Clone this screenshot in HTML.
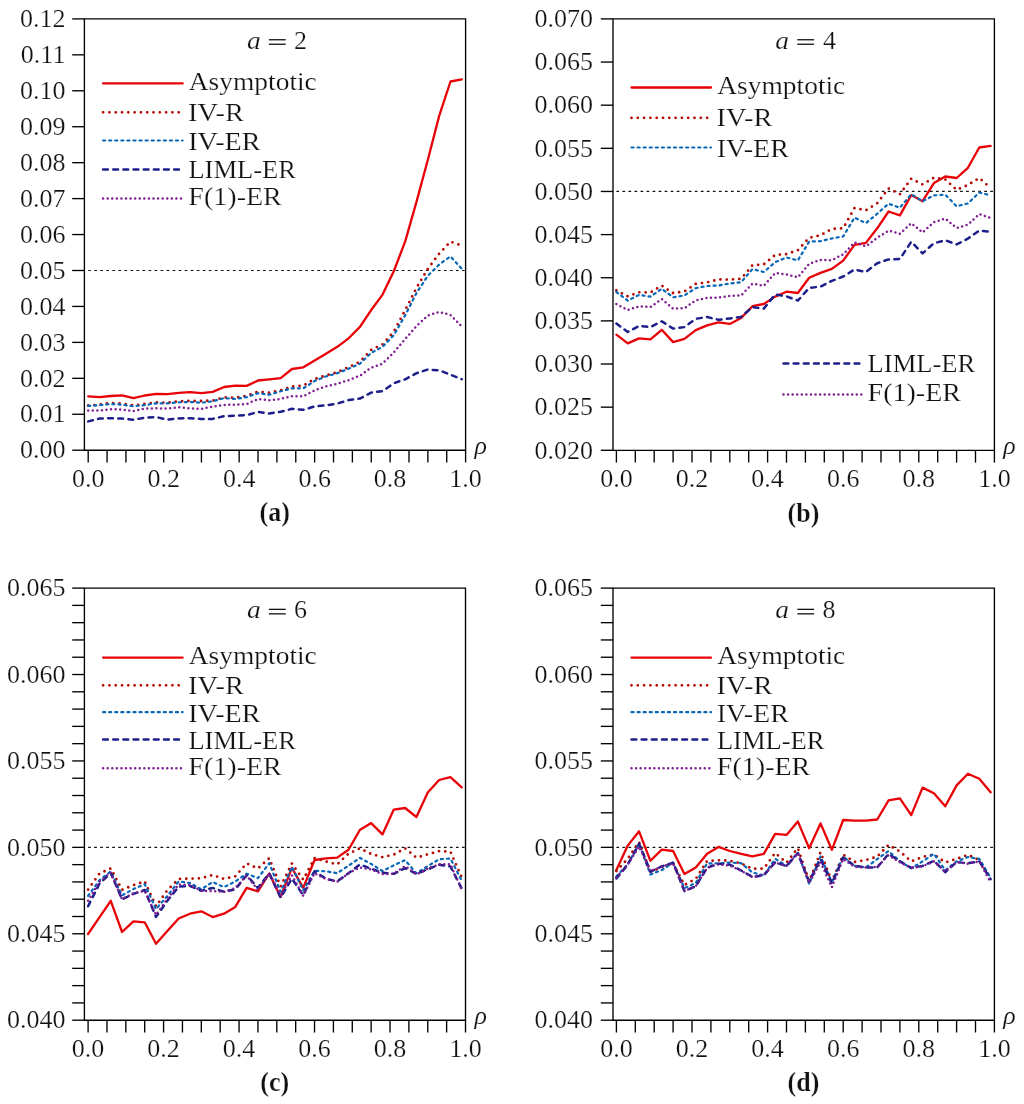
<!DOCTYPE html>
<html><head><meta charset="utf-8"><style>
html,body{margin:0;padding:0;background:#fff;}
svg{display:block;will-change:transform;}
.t{font-family:"Liberation Serif", serif;font-size:26px;fill:#111;stroke:#fff;stroke-width:0.22px;}
.i{font-style:italic;}
.b{font-weight:bold;}
.n{font-weight:bold;}
</style></head><body>
<svg width="1024" height="1104" viewBox="0 0 1024 1104">
<rect width="1024" height="1104" fill="#fff"/>
<line x1="88.20" y1="270.49" x2="465.60" y2="270.49" stroke="#111" stroke-width="1.2" stroke-dasharray="2.7 3.33"/>
<polyline points="88.20,396.30 99.52,397.10 110.84,396.00 122.17,395.30 133.49,398.20 144.81,395.50 156.13,393.90 167.45,394.20 178.78,392.90 190.10,392.20 201.42,393.20 212.74,391.90 224.06,387.00 235.39,385.70 246.71,385.90 258.03,380.50 269.35,379.30 280.67,378.10 292.00,369.00 303.32,367.30 314.64,360.50 325.96,353.80 337.28,346.80 348.61,338.30 359.93,326.90 371.25,310.00 382.57,294.60 393.89,271.00 405.22,241.40 416.54,201.60 427.86,159.80 439.18,115.90 450.50,81.50 461.83,79.40" fill="none" stroke="#e80208" stroke-width="2.3" stroke-linecap="round" stroke-linejoin="round"/>
<polyline points="88.20,405.50 99.52,404.70 110.84,402.90 122.17,403.70 133.49,405.50 144.81,403.80 156.13,402.50 167.45,402.70 178.78,401.30 190.10,400.80 201.42,401.00 212.74,400.50 224.06,397.40 235.39,397.80 246.71,395.60 258.03,391.70 269.35,392.70 280.67,390.30 292.00,386.60 303.32,385.60 314.64,379.00 325.96,375.40 337.28,372.20 348.61,367.20 359.93,361.80 371.25,349.80 382.57,344.30 393.89,331.50 405.22,310.10 416.54,287.80 427.86,268.80 439.18,253.70 450.50,241.60 461.83,245.60" fill="none" stroke="#b40800" stroke-width="2.8" stroke-linecap="round" stroke-linejoin="round" stroke-dasharray="0 6.3"/>
<polyline points="88.20,405.90 99.52,405.30 110.84,404.00 122.17,404.70 133.49,406.30 144.81,405.10 156.13,403.40 167.45,403.40 178.78,402.30 190.10,402.00 201.42,402.70 212.74,401.30 224.06,398.10 235.39,399.00 246.71,397.10 258.03,393.20 269.35,394.70 280.67,391.30 292.00,388.30 303.32,388.30 314.64,381.00 325.96,376.50 337.28,373.20 348.61,368.70 359.93,363.70 371.25,352.80 382.57,346.80 393.89,335.00 405.22,315.30 416.54,292.90 427.86,275.70 439.18,264.50 450.50,256.40 461.83,268.80" fill="none" stroke="#0866b8" stroke-width="2.2" stroke-linecap="round" stroke-linejoin="round" stroke-dasharray="2.1 3.97"/>
<polyline points="88.20,421.40 99.52,418.50 110.84,418.20 122.17,418.60 133.49,419.80 144.81,417.70 156.13,417.10 167.45,419.60 178.78,418.40 190.10,418.30 201.42,418.90 212.74,418.90 224.06,416.10 235.39,415.70 246.71,415.20 258.03,411.80 269.35,413.50 280.67,411.80 292.00,408.80 303.32,409.80 314.64,406.40 325.96,405.30 337.28,403.60 348.61,400.10 359.93,398.60 371.25,392.60 382.57,391.10 393.89,383.20 405.22,379.30 416.54,373.20 427.86,369.50 439.18,370.40 450.50,374.70 461.83,379.30" fill="none" stroke="#1c1f8a" stroke-width="2.5" stroke-linecap="round" stroke-linejoin="round" stroke-dasharray="4.8 5.35"/>
<polyline points="88.20,410.50 99.52,410.50 110.84,409.20 122.17,409.60 133.49,411.10 144.81,408.60 156.13,408.30 167.45,408.50 178.78,407.30 190.10,408.30 201.42,408.80 212.74,406.60 224.06,404.90 235.39,404.60 246.71,404.00 258.03,399.10 269.35,400.20 280.67,398.90 292.00,396.30 303.32,396.30 314.64,390.30 325.96,386.30 337.28,383.70 348.61,380.20 359.93,375.70 371.25,367.70 382.57,363.70 393.89,352.40 405.22,339.00 416.54,326.00 427.86,315.60 439.18,311.90 450.50,315.00 461.83,326.50" fill="none" stroke="#801c92" stroke-width="2.5" stroke-linecap="round" stroke-linejoin="round" stroke-dasharray="0 4.58"/>
<path d="M84.4,18.9 H465.6 V450.2 H84.4 Z" fill="none" stroke="#000" stroke-width="1.35"/>
<line x1="72.20" y1="450.20" x2="84.4" y2="450.20" stroke="#000" stroke-width="1.35"/>
<text x="65.4" y="458.40" text-anchor="end" class="t">0.00</text>
<line x1="72.20" y1="414.26" x2="84.4" y2="414.26" stroke="#000" stroke-width="1.35"/>
<text x="65.4" y="422.46" text-anchor="end" class="t">0.01</text>
<line x1="72.20" y1="378.32" x2="84.4" y2="378.32" stroke="#000" stroke-width="1.35"/>
<text x="65.4" y="386.52" text-anchor="end" class="t">0.02</text>
<line x1="72.20" y1="342.38" x2="84.4" y2="342.38" stroke="#000" stroke-width="1.35"/>
<text x="65.4" y="350.57" text-anchor="end" class="t">0.03</text>
<line x1="72.20" y1="306.43" x2="84.4" y2="306.43" stroke="#000" stroke-width="1.35"/>
<text x="65.4" y="314.63" text-anchor="end" class="t">0.04</text>
<line x1="72.20" y1="270.49" x2="84.4" y2="270.49" stroke="#000" stroke-width="1.35"/>
<text x="65.4" y="278.69" text-anchor="end" class="t">0.05</text>
<line x1="72.20" y1="234.55" x2="84.4" y2="234.55" stroke="#000" stroke-width="1.35"/>
<text x="65.4" y="242.75" text-anchor="end" class="t">0.06</text>
<line x1="72.20" y1="198.61" x2="84.4" y2="198.61" stroke="#000" stroke-width="1.35"/>
<text x="65.4" y="206.81" text-anchor="end" class="t">0.07</text>
<line x1="72.20" y1="162.67" x2="84.4" y2="162.67" stroke="#000" stroke-width="1.35"/>
<text x="65.4" y="170.87" text-anchor="end" class="t">0.08</text>
<line x1="72.20" y1="126.72" x2="84.4" y2="126.72" stroke="#000" stroke-width="1.35"/>
<text x="65.4" y="134.92" text-anchor="end" class="t">0.09</text>
<line x1="72.20" y1="90.78" x2="84.4" y2="90.78" stroke="#000" stroke-width="1.35"/>
<text x="65.4" y="98.98" text-anchor="end" class="t">0.10</text>
<line x1="72.20" y1="54.84" x2="84.4" y2="54.84" stroke="#000" stroke-width="1.35"/>
<text x="65.4" y="63.04" text-anchor="end" class="t">0.11</text>
<line x1="72.20" y1="18.90" x2="84.4" y2="18.90" stroke="#000" stroke-width="1.35"/>
<text x="65.4" y="27.10" text-anchor="end" class="t">0.12</text>
<line x1="88.20" y1="450.2" x2="88.20" y2="462.50" stroke="#000" stroke-width="1.35"/>
<line x1="107.07" y1="450.2" x2="107.07" y2="462.50" stroke="#000" stroke-width="1.35"/>
<line x1="125.94" y1="450.2" x2="125.94" y2="462.50" stroke="#000" stroke-width="1.35"/>
<line x1="144.81" y1="450.2" x2="144.81" y2="462.50" stroke="#000" stroke-width="1.35"/>
<line x1="163.68" y1="450.2" x2="163.68" y2="462.50" stroke="#000" stroke-width="1.35"/>
<line x1="182.55" y1="450.2" x2="182.55" y2="462.50" stroke="#000" stroke-width="1.35"/>
<line x1="201.42" y1="450.2" x2="201.42" y2="462.50" stroke="#000" stroke-width="1.35"/>
<line x1="220.29" y1="450.2" x2="220.29" y2="462.50" stroke="#000" stroke-width="1.35"/>
<line x1="239.16" y1="450.2" x2="239.16" y2="462.50" stroke="#000" stroke-width="1.35"/>
<line x1="258.03" y1="450.2" x2="258.03" y2="462.50" stroke="#000" stroke-width="1.35"/>
<line x1="276.90" y1="450.2" x2="276.90" y2="462.50" stroke="#000" stroke-width="1.35"/>
<line x1="295.77" y1="450.2" x2="295.77" y2="462.50" stroke="#000" stroke-width="1.35"/>
<line x1="314.64" y1="450.2" x2="314.64" y2="462.50" stroke="#000" stroke-width="1.35"/>
<line x1="333.51" y1="450.2" x2="333.51" y2="462.50" stroke="#000" stroke-width="1.35"/>
<line x1="352.38" y1="450.2" x2="352.38" y2="462.50" stroke="#000" stroke-width="1.35"/>
<line x1="371.25" y1="450.2" x2="371.25" y2="462.50" stroke="#000" stroke-width="1.35"/>
<line x1="390.12" y1="450.2" x2="390.12" y2="462.50" stroke="#000" stroke-width="1.35"/>
<line x1="408.99" y1="450.2" x2="408.99" y2="462.50" stroke="#000" stroke-width="1.35"/>
<line x1="427.86" y1="450.2" x2="427.86" y2="462.50" stroke="#000" stroke-width="1.35"/>
<line x1="446.73" y1="450.2" x2="446.73" y2="462.50" stroke="#000" stroke-width="1.35"/>
<line x1="465.60" y1="450.2" x2="465.60" y2="462.50" stroke="#000" stroke-width="1.35"/>
<text x="88.20" y="487.2" text-anchor="middle" class="t">0.0</text>
<text x="163.68" y="487.2" text-anchor="middle" class="t">0.2</text>
<text x="239.16" y="487.2" text-anchor="middle" class="t">0.4</text>
<text x="314.64" y="487.2" text-anchor="middle" class="t">0.6</text>
<text x="390.12" y="487.2" text-anchor="middle" class="t">0.8</text>
<text x="465.60" y="487.2" text-anchor="middle" class="t">1.0</text>
<text transform="translate(474.50,453.70) scale(1.0000,1.0000)" class="t i">ρ</text>
<text transform="translate(259.55,521.40) scale(1.0000,1.0770)" class="t b"><tspan class="n">(</tspan>a<tspan class="n">)</tspan></text>
<text transform="translate(246.95,48.60) scale(1.0600,1.0000)" class="t i">a</text>
<rect x="268.90" y="39.10" width="16.8" height="1.3" fill="#111"/>
<rect x="268.90" y="43.60" width="16.8" height="1.3" fill="#111"/>
<text transform="translate(294.00,48.50) scale(1.0000,1.0000)" class="t">2</text>
<line x1="103.1" y1="83.4" x2="182.6" y2="83.4" fill="none" stroke="#e80208" stroke-width="2.3" stroke-linecap="round" stroke-linejoin="round"/>
<text transform="translate(188.78,89.90) scale(1.0557,1.0000)" class="t">Asymptotic</text>
<line x1="103.1" y1="112.3" x2="182.6" y2="112.3" fill="none" stroke="#b40800" stroke-width="2.8" stroke-linecap="round" stroke-linejoin="round" stroke-dasharray="0 6.3"/>
<text transform="translate(188.12,120.80) scale(1.0918,1.0000)" class="t">IV-R</text>
<line x1="103.1" y1="140.5" x2="182.6" y2="140.5" fill="none" stroke="#0866b8" stroke-width="2.2" stroke-linecap="round" stroke-linejoin="round" stroke-dasharray="2.1 3.97"/>
<text transform="translate(188.13,150.00) scale(1.0818,1.0000)" class="t">IV-ER</text>
<line x1="103.1" y1="169.4" x2="182.6" y2="169.4" fill="none" stroke="#1c1f8a" stroke-width="2.5" stroke-linecap="round" stroke-linejoin="round" stroke-dasharray="4.8 5.35"/>
<text transform="translate(188.39,178.30) scale(1.0210,1.0000)" class="t">LIML-ER</text>
<line x1="103.1" y1="198.6" x2="182.6" y2="198.6" fill="none" stroke="#801c92" stroke-width="2.5" stroke-linecap="round" stroke-linejoin="round" stroke-dasharray="0 4.58"/>
<text transform="translate(188.34,205.00) scale(1.0792,1.0000)" class="t">F(1)-ER</text>
<line x1="616.40" y1="191.46" x2="994.40" y2="191.46" stroke="#111" stroke-width="1.2" stroke-dasharray="2.7 3.33"/>
<polyline points="616.40,334.60 627.74,343.40 639.08,338.40 650.42,339.30 661.76,329.80 673.10,342.10 684.44,338.80 695.78,330.10 707.12,325.40 718.46,322.30 729.80,323.90 741.14,317.90 752.48,306.20 763.82,304.00 775.16,296.60 786.50,291.70 797.84,293.00 809.18,277.70 820.52,272.90 831.86,268.90 843.20,260.60 854.54,244.80 865.88,242.90 877.22,228.30 888.56,211.50 899.90,215.40 911.24,195.10 922.58,201.20 933.92,183.10 945.26,176.50 956.60,178.00 967.94,167.80 979.28,147.50 990.62,145.80" fill="none" stroke="#e80208" stroke-width="2.3" stroke-linecap="round" stroke-linejoin="round"/>
<polyline points="616.40,290.30 627.74,296.40 639.08,292.30 650.42,292.50 661.76,285.60 673.10,293.10 684.44,291.50 695.78,283.90 707.12,282.40 718.46,279.40 729.80,279.60 741.14,278.80 752.48,265.20 763.82,264.40 775.16,254.90 786.50,254.20 797.84,250.20 809.18,237.80 820.52,235.30 831.86,228.90 843.20,228.30 854.54,208.00 865.88,210.30 877.22,203.20 888.56,188.40 899.90,194.20 911.24,178.70 922.58,184.50 933.92,177.70 945.26,179.40 956.60,189.90 967.94,185.00 979.28,178.00 990.62,188.10" fill="none" stroke="#b40800" stroke-width="2.8" stroke-linecap="round" stroke-linejoin="round" stroke-dasharray="0 6.3"/>
<polyline points="616.40,292.00 627.74,300.60 639.08,294.90 650.42,296.60 661.76,288.80 673.10,297.30 684.44,295.40 695.78,288.10 707.12,286.00 718.46,285.50 729.80,283.50 741.14,282.20 752.48,269.10 763.82,272.00 775.16,262.20 786.50,257.50 797.84,260.40 809.18,241.60 820.52,241.20 831.86,238.40 843.20,236.50 854.54,217.50 865.88,223.20 877.22,213.70 888.56,203.70 899.90,207.70 911.24,194.20 922.58,201.20 933.92,195.40 945.26,194.70 956.60,206.30 967.94,203.40 979.28,192.50 990.62,195.40" fill="none" stroke="#0866b8" stroke-width="2.2" stroke-linecap="round" stroke-linejoin="round" stroke-dasharray="2.1 3.97"/>
<polyline points="616.40,323.50 627.74,332.00 639.08,325.90 650.42,327.10 661.76,321.30 673.10,328.60 684.44,327.10 695.78,318.80 707.12,317.00 718.46,319.80 729.80,318.40 741.14,316.90 752.48,307.10 763.82,308.60 775.16,294.50 786.50,296.40 797.84,300.60 809.18,287.90 820.52,286.60 831.86,280.90 843.20,276.50 854.54,269.50 865.88,272.00 877.22,263.20 888.56,259.40 899.90,258.90 911.24,241.80 922.58,253.40 933.92,243.20 945.26,240.30 956.60,244.40 967.94,238.60 979.28,230.50 990.62,231.90" fill="none" stroke="#1c1f8a" stroke-width="2.5" stroke-linecap="round" stroke-linejoin="round" stroke-dasharray="4.8 5.35"/>
<polyline points="616.40,304.00 627.74,310.00 639.08,306.30 650.42,307.10 661.76,299.10 673.10,308.60 684.44,308.10 695.78,300.30 707.12,297.90 718.46,297.60 729.80,296.00 741.14,295.40 752.48,283.70 763.82,285.70 775.16,273.00 786.50,274.40 797.84,277.40 809.18,263.80 820.52,260.00 831.86,260.20 843.20,254.30 854.54,242.50 865.88,246.40 877.22,237.80 888.56,230.60 899.90,233.80 911.24,223.20 922.58,232.40 933.92,222.20 945.26,218.60 956.60,228.00 967.94,224.70 979.28,214.00 990.62,217.90" fill="none" stroke="#801c92" stroke-width="2.5" stroke-linecap="round" stroke-linejoin="round" stroke-dasharray="0 4.58"/>
<path d="M613.0,18.9 H994.4 V450.3 H613.0 Z" fill="none" stroke="#000" stroke-width="1.35"/>
<line x1="600.80" y1="450.30" x2="613.0" y2="450.30" stroke="#000" stroke-width="1.35"/>
<text x="593.1" y="458.50" text-anchor="end" class="t">0.020</text>
<line x1="600.80" y1="407.16" x2="613.0" y2="407.16" stroke="#000" stroke-width="1.35"/>
<text x="593.1" y="415.36" text-anchor="end" class="t">0.025</text>
<line x1="600.80" y1="364.02" x2="613.0" y2="364.02" stroke="#000" stroke-width="1.35"/>
<text x="593.1" y="372.22" text-anchor="end" class="t">0.030</text>
<line x1="600.80" y1="320.88" x2="613.0" y2="320.88" stroke="#000" stroke-width="1.35"/>
<text x="593.1" y="329.08" text-anchor="end" class="t">0.035</text>
<line x1="600.80" y1="277.74" x2="613.0" y2="277.74" stroke="#000" stroke-width="1.35"/>
<text x="593.1" y="285.94" text-anchor="end" class="t">0.040</text>
<line x1="600.80" y1="234.60" x2="613.0" y2="234.60" stroke="#000" stroke-width="1.35"/>
<text x="593.1" y="242.80" text-anchor="end" class="t">0.045</text>
<line x1="600.80" y1="191.46" x2="613.0" y2="191.46" stroke="#000" stroke-width="1.35"/>
<text x="593.1" y="199.66" text-anchor="end" class="t">0.050</text>
<line x1="600.80" y1="148.32" x2="613.0" y2="148.32" stroke="#000" stroke-width="1.35"/>
<text x="593.1" y="156.52" text-anchor="end" class="t">0.055</text>
<line x1="600.80" y1="105.18" x2="613.0" y2="105.18" stroke="#000" stroke-width="1.35"/>
<text x="593.1" y="113.38" text-anchor="end" class="t">0.060</text>
<line x1="600.80" y1="62.04" x2="613.0" y2="62.04" stroke="#000" stroke-width="1.35"/>
<text x="593.1" y="70.24" text-anchor="end" class="t">0.065</text>
<line x1="600.80" y1="18.90" x2="613.0" y2="18.90" stroke="#000" stroke-width="1.35"/>
<text x="593.1" y="27.10" text-anchor="end" class="t">0.070</text>
<line x1="616.40" y1="450.3" x2="616.40" y2="462.60" stroke="#000" stroke-width="1.35"/>
<line x1="635.30" y1="450.3" x2="635.30" y2="462.60" stroke="#000" stroke-width="1.35"/>
<line x1="654.20" y1="450.3" x2="654.20" y2="462.60" stroke="#000" stroke-width="1.35"/>
<line x1="673.10" y1="450.3" x2="673.10" y2="462.60" stroke="#000" stroke-width="1.35"/>
<line x1="692.00" y1="450.3" x2="692.00" y2="462.60" stroke="#000" stroke-width="1.35"/>
<line x1="710.90" y1="450.3" x2="710.90" y2="462.60" stroke="#000" stroke-width="1.35"/>
<line x1="729.80" y1="450.3" x2="729.80" y2="462.60" stroke="#000" stroke-width="1.35"/>
<line x1="748.70" y1="450.3" x2="748.70" y2="462.60" stroke="#000" stroke-width="1.35"/>
<line x1="767.60" y1="450.3" x2="767.60" y2="462.60" stroke="#000" stroke-width="1.35"/>
<line x1="786.50" y1="450.3" x2="786.50" y2="462.60" stroke="#000" stroke-width="1.35"/>
<line x1="805.40" y1="450.3" x2="805.40" y2="462.60" stroke="#000" stroke-width="1.35"/>
<line x1="824.30" y1="450.3" x2="824.30" y2="462.60" stroke="#000" stroke-width="1.35"/>
<line x1="843.20" y1="450.3" x2="843.20" y2="462.60" stroke="#000" stroke-width="1.35"/>
<line x1="862.10" y1="450.3" x2="862.10" y2="462.60" stroke="#000" stroke-width="1.35"/>
<line x1="881.00" y1="450.3" x2="881.00" y2="462.60" stroke="#000" stroke-width="1.35"/>
<line x1="899.90" y1="450.3" x2="899.90" y2="462.60" stroke="#000" stroke-width="1.35"/>
<line x1="918.80" y1="450.3" x2="918.80" y2="462.60" stroke="#000" stroke-width="1.35"/>
<line x1="937.70" y1="450.3" x2="937.70" y2="462.60" stroke="#000" stroke-width="1.35"/>
<line x1="956.60" y1="450.3" x2="956.60" y2="462.60" stroke="#000" stroke-width="1.35"/>
<line x1="975.50" y1="450.3" x2="975.50" y2="462.60" stroke="#000" stroke-width="1.35"/>
<line x1="994.40" y1="450.3" x2="994.40" y2="462.60" stroke="#000" stroke-width="1.35"/>
<text x="616.40" y="487.2" text-anchor="middle" class="t">0.0</text>
<text x="692.00" y="487.2" text-anchor="middle" class="t">0.2</text>
<text x="767.60" y="487.2" text-anchor="middle" class="t">0.4</text>
<text x="843.20" y="487.2" text-anchor="middle" class="t">0.6</text>
<text x="918.80" y="487.2" text-anchor="middle" class="t">0.8</text>
<text x="994.40" y="487.2" text-anchor="middle" class="t">1.0</text>
<text transform="translate(1003.30,453.80) scale(1.0000,1.0000)" class="t i">ρ</text>
<text transform="translate(787.60,521.60) scale(0.9966,1.0770)" class="t b"><tspan class="n">(</tspan>b<tspan class="n">)</tspan></text>
<text transform="translate(775.35,48.60) scale(1.0600,1.0000)" class="t i">a</text>
<rect x="797.30" y="39.10" width="16.8" height="1.3" fill="#111"/>
<rect x="797.30" y="43.60" width="16.8" height="1.3" fill="#111"/>
<text transform="translate(823.00,48.50) scale(1.0000,1.0000)" class="t">4</text>
<line x1="631.5" y1="87.5" x2="711.0" y2="87.5" fill="none" stroke="#e80208" stroke-width="2.3" stroke-linecap="round" stroke-linejoin="round"/>
<text transform="translate(717.28,94.20) scale(1.0557,1.0000)" class="t">Asymptotic</text>
<line x1="631.5" y1="117.8" x2="711.0" y2="117.8" fill="none" stroke="#b40800" stroke-width="2.8" stroke-linecap="round" stroke-linejoin="round" stroke-dasharray="0 6.3"/>
<text transform="translate(716.62,126.25) scale(1.0918,1.0000)" class="t">IV-R</text>
<line x1="631.5" y1="147.5" x2="711.0" y2="147.5" fill="none" stroke="#0866b8" stroke-width="2.2" stroke-linecap="round" stroke-linejoin="round" stroke-dasharray="2.1 3.97"/>
<text transform="translate(716.63,156.70) scale(1.0818,1.0000)" class="t">IV-ER</text>
<line x1="783.5" y1="363.4" x2="863.0" y2="363.4" fill="none" stroke="#1c1f8a" stroke-width="2.5" stroke-linecap="round" stroke-linejoin="round" stroke-dasharray="4.8 5.35"/>
<text transform="translate(867.59,372.30) scale(1.0210,1.0000)" class="t">LIML-ER</text>
<line x1="783.5" y1="394.4" x2="863.0" y2="394.4" fill="none" stroke="#801c92" stroke-width="2.5" stroke-linecap="round" stroke-linejoin="round" stroke-dasharray="0 4.58"/>
<text transform="translate(867.54,400.70) scale(1.0792,1.0000)" class="t">F(1)-ER</text>
<line x1="88.10" y1="847.36" x2="465.50" y2="847.36" stroke="#111" stroke-width="1.2" stroke-dasharray="2.7 3.33"/>
<polyline points="88.10,934.00 99.42,917.40 110.74,900.80 122.07,932.00 133.39,921.30 144.71,922.30 156.03,943.80 167.35,931.10 178.68,918.50 190.00,913.70 201.32,911.30 212.64,917.10 223.96,913.70 235.29,906.90 246.61,887.90 257.93,891.30 269.25,873.50 280.57,897.00 291.90,867.90 303.22,887.90 314.54,860.00 325.86,858.30 337.18,857.60 348.51,849.80 359.83,830.00 371.15,823.10 382.47,834.40 393.79,809.60 405.12,808.00 416.44,817.00 427.76,792.50 439.08,780.00 450.40,777.10 461.73,787.40" fill="none" stroke="#e80208" stroke-width="2.3" stroke-linecap="round" stroke-linejoin="round"/>
<polyline points="88.10,889.60 99.42,873.60 110.74,868.40 122.07,889.80 133.39,885.20 144.71,881.40 156.03,906.40 167.35,890.20 178.68,879.00 190.00,878.60 201.32,878.30 212.64,875.00 223.96,878.90 235.29,876.30 246.61,863.40 257.93,868.50 269.25,858.20 280.57,886.40 291.90,863.50 303.22,879.60 314.54,858.10 325.86,861.50 337.18,864.40 348.51,853.70 359.83,848.40 371.15,854.00 382.47,857.10 393.79,854.60 405.12,848.30 416.44,857.70 427.76,854.30 439.08,851.20 450.40,851.70 461.73,877.20" fill="none" stroke="#b40800" stroke-width="2.8" stroke-linecap="round" stroke-linejoin="round" stroke-dasharray="0 6.3"/>
<polyline points="88.10,895.90 99.42,880.30 110.74,871.50 122.07,895.40 133.39,889.10 144.71,884.20 156.03,909.10 167.35,895.90 178.68,881.50 190.00,883.00 201.32,889.30 212.64,882.00 223.96,887.10 235.29,881.50 246.61,873.70 257.93,878.10 269.25,863.20 280.57,891.80 291.90,866.90 303.22,890.30 314.54,870.80 325.86,871.30 337.18,873.20 348.51,865.70 359.83,857.80 371.15,863.90 382.47,871.00 393.79,865.30 405.12,860.20 416.44,873.30 427.76,866.10 439.08,859.30 450.40,858.50 461.73,880.60" fill="none" stroke="#0866b8" stroke-width="2.2" stroke-linecap="round" stroke-linejoin="round" stroke-dasharray="2.1 3.97"/>
<polyline points="88.10,906.20 99.42,883.70 110.74,873.00 122.07,899.30 133.39,893.90 144.71,890.00 156.03,916.90 167.35,900.80 178.68,886.60 190.00,885.90 201.32,890.80 212.64,887.90 223.96,891.80 235.29,889.30 246.61,875.20 257.93,887.90 269.25,873.40 280.57,897.60 291.90,878.60 303.22,895.20 314.54,871.30 325.86,878.60 337.18,881.50 348.51,873.20 359.83,864.50 371.15,868.70 382.47,872.70 393.79,873.80 405.12,868.20 416.44,873.80 427.76,869.30 439.08,864.80 450.40,866.50 461.73,888.60" fill="none" stroke="#1c1f8a" stroke-width="2.5" stroke-linecap="round" stroke-linejoin="round" stroke-dasharray="4.8 5.35"/>
<polyline points="88.10,900.80 99.42,881.70 110.74,872.70 122.07,899.30 133.39,893.20 144.71,891.00 156.03,914.90 167.35,898.80 178.68,884.40 190.00,885.10 201.32,890.80 212.64,891.00 223.96,891.80 235.29,887.90 246.61,875.60 257.93,889.80 269.25,873.20 280.57,895.20 291.90,875.20 303.22,895.70 314.54,873.20 325.86,879.10 337.18,881.70 348.51,873.20 359.83,867.60 371.15,869.30 382.47,874.10 393.79,873.60 405.12,866.10 416.44,874.40 427.76,868.70 439.08,864.20 450.40,864.20 461.73,889.70" fill="none" stroke="#801c92" stroke-width="2.5" stroke-linecap="round" stroke-linejoin="round" stroke-dasharray="0 4.58"/>
<path d="M84.4,588.1 H465.5 V1020.2 H84.4 Z" fill="none" stroke="#000" stroke-width="1.35"/>
<line x1="72.20" y1="1020.20" x2="84.4" y2="1020.20" stroke="#000" stroke-width="1.35"/>
<text x="65.4" y="1028.40" text-anchor="end" class="t">0.040</text>
<line x1="72.20" y1="933.78" x2="84.4" y2="933.78" stroke="#000" stroke-width="1.35"/>
<text x="65.4" y="941.98" text-anchor="end" class="t">0.045</text>
<line x1="72.20" y1="847.36" x2="84.4" y2="847.36" stroke="#000" stroke-width="1.35"/>
<text x="65.4" y="855.56" text-anchor="end" class="t">0.050</text>
<line x1="72.20" y1="760.94" x2="84.4" y2="760.94" stroke="#000" stroke-width="1.35"/>
<text x="65.4" y="769.14" text-anchor="end" class="t">0.055</text>
<line x1="72.20" y1="674.52" x2="84.4" y2="674.52" stroke="#000" stroke-width="1.35"/>
<text x="65.4" y="682.72" text-anchor="end" class="t">0.060</text>
<line x1="72.20" y1="588.10" x2="84.4" y2="588.10" stroke="#000" stroke-width="1.35"/>
<text x="65.4" y="596.30" text-anchor="end" class="t">0.065</text>
<line x1="72.20" y1="1002.92" x2="84.4" y2="1002.92" stroke="#000" stroke-width="1.35"/>
<line x1="72.20" y1="985.63" x2="84.4" y2="985.63" stroke="#000" stroke-width="1.35"/>
<line x1="72.20" y1="968.35" x2="84.4" y2="968.35" stroke="#000" stroke-width="1.35"/>
<line x1="72.20" y1="951.06" x2="84.4" y2="951.06" stroke="#000" stroke-width="1.35"/>
<line x1="72.20" y1="916.50" x2="84.4" y2="916.50" stroke="#000" stroke-width="1.35"/>
<line x1="72.20" y1="899.21" x2="84.4" y2="899.21" stroke="#000" stroke-width="1.35"/>
<line x1="72.20" y1="881.93" x2="84.4" y2="881.93" stroke="#000" stroke-width="1.35"/>
<line x1="72.20" y1="864.64" x2="84.4" y2="864.64" stroke="#000" stroke-width="1.35"/>
<line x1="72.20" y1="830.08" x2="84.4" y2="830.08" stroke="#000" stroke-width="1.35"/>
<line x1="72.20" y1="812.79" x2="84.4" y2="812.79" stroke="#000" stroke-width="1.35"/>
<line x1="72.20" y1="795.51" x2="84.4" y2="795.51" stroke="#000" stroke-width="1.35"/>
<line x1="72.20" y1="778.22" x2="84.4" y2="778.22" stroke="#000" stroke-width="1.35"/>
<line x1="72.20" y1="743.66" x2="84.4" y2="743.66" stroke="#000" stroke-width="1.35"/>
<line x1="72.20" y1="726.37" x2="84.4" y2="726.37" stroke="#000" stroke-width="1.35"/>
<line x1="72.20" y1="709.09" x2="84.4" y2="709.09" stroke="#000" stroke-width="1.35"/>
<line x1="72.20" y1="691.80" x2="84.4" y2="691.80" stroke="#000" stroke-width="1.35"/>
<line x1="72.20" y1="657.24" x2="84.4" y2="657.24" stroke="#000" stroke-width="1.35"/>
<line x1="72.20" y1="639.95" x2="84.4" y2="639.95" stroke="#000" stroke-width="1.35"/>
<line x1="72.20" y1="622.67" x2="84.4" y2="622.67" stroke="#000" stroke-width="1.35"/>
<line x1="72.20" y1="605.38" x2="84.4" y2="605.38" stroke="#000" stroke-width="1.35"/>
<line x1="88.10" y1="1020.2" x2="88.10" y2="1032.50" stroke="#000" stroke-width="1.35"/>
<line x1="106.97" y1="1020.2" x2="106.97" y2="1032.50" stroke="#000" stroke-width="1.35"/>
<line x1="125.84" y1="1020.2" x2="125.84" y2="1032.50" stroke="#000" stroke-width="1.35"/>
<line x1="144.71" y1="1020.2" x2="144.71" y2="1032.50" stroke="#000" stroke-width="1.35"/>
<line x1="163.58" y1="1020.2" x2="163.58" y2="1032.50" stroke="#000" stroke-width="1.35"/>
<line x1="182.45" y1="1020.2" x2="182.45" y2="1032.50" stroke="#000" stroke-width="1.35"/>
<line x1="201.32" y1="1020.2" x2="201.32" y2="1032.50" stroke="#000" stroke-width="1.35"/>
<line x1="220.19" y1="1020.2" x2="220.19" y2="1032.50" stroke="#000" stroke-width="1.35"/>
<line x1="239.06" y1="1020.2" x2="239.06" y2="1032.50" stroke="#000" stroke-width="1.35"/>
<line x1="257.93" y1="1020.2" x2="257.93" y2="1032.50" stroke="#000" stroke-width="1.35"/>
<line x1="276.80" y1="1020.2" x2="276.80" y2="1032.50" stroke="#000" stroke-width="1.35"/>
<line x1="295.67" y1="1020.2" x2="295.67" y2="1032.50" stroke="#000" stroke-width="1.35"/>
<line x1="314.54" y1="1020.2" x2="314.54" y2="1032.50" stroke="#000" stroke-width="1.35"/>
<line x1="333.41" y1="1020.2" x2="333.41" y2="1032.50" stroke="#000" stroke-width="1.35"/>
<line x1="352.28" y1="1020.2" x2="352.28" y2="1032.50" stroke="#000" stroke-width="1.35"/>
<line x1="371.15" y1="1020.2" x2="371.15" y2="1032.50" stroke="#000" stroke-width="1.35"/>
<line x1="390.02" y1="1020.2" x2="390.02" y2="1032.50" stroke="#000" stroke-width="1.35"/>
<line x1="408.89" y1="1020.2" x2="408.89" y2="1032.50" stroke="#000" stroke-width="1.35"/>
<line x1="427.76" y1="1020.2" x2="427.76" y2="1032.50" stroke="#000" stroke-width="1.35"/>
<line x1="446.63" y1="1020.2" x2="446.63" y2="1032.50" stroke="#000" stroke-width="1.35"/>
<line x1="465.50" y1="1020.2" x2="465.50" y2="1032.50" stroke="#000" stroke-width="1.35"/>
<text x="88.10" y="1056.5" text-anchor="middle" class="t">0.0</text>
<text x="163.58" y="1056.5" text-anchor="middle" class="t">0.2</text>
<text x="239.06" y="1056.5" text-anchor="middle" class="t">0.4</text>
<text x="314.54" y="1056.5" text-anchor="middle" class="t">0.6</text>
<text x="390.02" y="1056.5" text-anchor="middle" class="t">0.8</text>
<text x="465.50" y="1056.5" text-anchor="middle" class="t">1.0</text>
<text transform="translate(474.40,1023.70) scale(1.0000,1.0000)" class="t i">ρ</text>
<text transform="translate(260.20,1091.00) scale(1.0038,1.0770)" class="t b"><tspan class="n">(</tspan>c<tspan class="n">)</tspan></text>
<text transform="translate(246.95,618.20) scale(1.0600,1.0000)" class="t i">a</text>
<rect x="268.90" y="608.70" width="16.8" height="1.3" fill="#111"/>
<rect x="268.90" y="613.20" width="16.8" height="1.3" fill="#111"/>
<text transform="translate(294.00,618.10) scale(1.0000,1.0000)" class="t">6</text>
<line x1="103.1" y1="657.6" x2="182.6" y2="657.6" fill="none" stroke="#e80208" stroke-width="2.3" stroke-linecap="round" stroke-linejoin="round"/>
<text transform="translate(188.78,664.20) scale(1.0557,1.0000)" class="t">Asymptotic</text>
<line x1="103.1" y1="685.3" x2="182.6" y2="685.3" fill="none" stroke="#b40800" stroke-width="2.8" stroke-linecap="round" stroke-linejoin="round" stroke-dasharray="0 6.3"/>
<text transform="translate(188.12,693.90) scale(1.0918,1.0000)" class="t">IV-R</text>
<line x1="103.1" y1="712.2" x2="182.6" y2="712.2" fill="none" stroke="#0866b8" stroke-width="2.2" stroke-linecap="round" stroke-linejoin="round" stroke-dasharray="2.1 3.97"/>
<text transform="translate(188.13,721.60) scale(1.0818,1.0000)" class="t">IV-ER</text>
<line x1="103.1" y1="739.6" x2="182.6" y2="739.6" fill="none" stroke="#1c1f8a" stroke-width="2.5" stroke-linecap="round" stroke-linejoin="round" stroke-dasharray="4.8 5.35"/>
<text transform="translate(188.39,748.60) scale(1.0210,1.0000)" class="t">LIML-ER</text>
<line x1="103.1" y1="768.3" x2="182.6" y2="768.3" fill="none" stroke="#801c92" stroke-width="2.5" stroke-linecap="round" stroke-linejoin="round" stroke-dasharray="0 4.58"/>
<text transform="translate(188.34,774.70) scale(1.0792,1.0000)" class="t">F(1)-ER</text>
<line x1="616.40" y1="847.36" x2="994.40" y2="847.36" stroke="#111" stroke-width="1.2" stroke-dasharray="2.7 3.33"/>
<polyline points="616.40,870.10 627.74,845.60 639.08,831.30 650.42,860.80 661.76,849.60 673.10,851.00 684.44,874.00 695.78,867.60 707.12,853.70 718.46,846.90 729.80,851.00 741.14,853.80 752.48,856.40 763.82,853.90 775.16,833.90 786.50,834.90 797.84,821.40 809.18,848.30 820.52,823.40 831.86,849.80 843.20,820.00 854.54,820.70 865.88,820.70 877.22,819.50 888.56,800.40 899.90,798.30 911.24,815.10 922.58,787.60 933.92,793.20 945.26,806.30 956.60,785.40 967.94,773.70 979.28,778.80 990.62,792.30" fill="none" stroke="#e80208" stroke-width="2.3" stroke-linecap="round" stroke-linejoin="round"/>
<polyline points="616.40,871.00 627.74,858.80 639.08,842.00 650.42,872.00 661.76,867.10 673.10,863.20 684.44,885.00 695.78,878.80 707.12,861.00 718.46,860.30 729.80,860.60 741.14,863.50 752.48,868.80 763.82,868.60 775.16,853.00 786.50,862.70 797.84,848.20 809.18,881.10 820.52,852.20 831.86,881.50 843.20,854.70 854.54,862.00 865.88,860.10 877.22,856.60 888.56,844.90 899.90,851.50 911.24,861.40 922.58,857.00 933.92,854.40 945.26,862.40 956.60,858.90 967.94,854.80 979.28,860.20 990.62,878.50" fill="none" stroke="#b40800" stroke-width="2.8" stroke-linecap="round" stroke-linejoin="round" stroke-dasharray="0 6.3"/>
<polyline points="616.40,876.40 627.74,864.20 639.08,843.70 650.42,874.50 661.76,870.10 673.10,862.70 684.44,888.10 695.78,883.00 707.12,863.30 718.46,863.50 729.80,862.50 741.14,863.20 752.48,872.50 763.82,875.40 775.16,858.80 786.50,865.70 797.84,852.60 809.18,884.00 820.52,856.40 831.86,882.00 843.20,856.60 854.54,865.90 865.88,867.40 877.22,859.10 888.56,851.00 899.90,861.20 911.24,868.40 922.58,861.40 933.92,853.80 945.26,870.30 956.60,861.40 967.94,857.00 979.28,858.90 990.62,877.90" fill="none" stroke="#0866b8" stroke-width="2.2" stroke-linecap="round" stroke-linejoin="round" stroke-dasharray="2.1 3.97"/>
<polyline points="616.40,878.40 627.74,864.70 639.08,843.70 650.42,871.50 661.76,866.40 673.10,862.70 684.44,891.10 695.78,886.20 707.12,867.60 718.46,863.70 729.80,864.70 741.14,870.50 752.48,876.90 763.82,875.40 775.16,862.20 786.50,866.20 797.84,853.20 809.18,881.50 820.52,859.10 831.86,883.50 843.20,857.60 854.54,865.90 865.88,867.40 877.22,867.40 888.56,853.90 899.90,861.40 911.24,867.80 922.58,865.90 933.92,860.80 945.26,872.20 956.60,862.10 967.94,863.30 979.28,861.40 990.62,879.20" fill="none" stroke="#1c1f8a" stroke-width="2.5" stroke-linecap="round" stroke-linejoin="round" stroke-dasharray="4.8 5.35"/>
<polyline points="616.40,877.40 627.74,864.50 639.08,846.60 650.42,871.50 661.76,866.40 673.10,863.50 684.44,891.10 695.78,886.20 707.12,868.00 718.46,864.20 729.80,865.50 741.14,870.70 752.48,877.20 763.82,874.90 775.16,862.70 786.50,865.90 797.84,853.10 809.18,883.00 820.52,862.00 831.86,887.40 843.20,859.10 854.54,866.90 865.88,867.60 877.22,866.90 888.56,855.20 899.90,862.40 911.24,868.00 922.58,866.20 933.92,861.40 945.26,871.60 956.60,862.10 967.94,863.70 979.28,861.40 990.62,882.30" fill="none" stroke="#801c92" stroke-width="2.5" stroke-linecap="round" stroke-linejoin="round" stroke-dasharray="0 4.58"/>
<path d="M613.0,588.1 H994.4 V1020.2 H613.0 Z" fill="none" stroke="#000" stroke-width="1.35"/>
<line x1="600.80" y1="1020.20" x2="613.0" y2="1020.20" stroke="#000" stroke-width="1.35"/>
<text x="593.1" y="1028.40" text-anchor="end" class="t">0.040</text>
<line x1="600.80" y1="933.78" x2="613.0" y2="933.78" stroke="#000" stroke-width="1.35"/>
<text x="593.1" y="941.98" text-anchor="end" class="t">0.045</text>
<line x1="600.80" y1="847.36" x2="613.0" y2="847.36" stroke="#000" stroke-width="1.35"/>
<text x="593.1" y="855.56" text-anchor="end" class="t">0.050</text>
<line x1="600.80" y1="760.94" x2="613.0" y2="760.94" stroke="#000" stroke-width="1.35"/>
<text x="593.1" y="769.14" text-anchor="end" class="t">0.055</text>
<line x1="600.80" y1="674.52" x2="613.0" y2="674.52" stroke="#000" stroke-width="1.35"/>
<text x="593.1" y="682.72" text-anchor="end" class="t">0.060</text>
<line x1="600.80" y1="588.10" x2="613.0" y2="588.10" stroke="#000" stroke-width="1.35"/>
<text x="593.1" y="596.30" text-anchor="end" class="t">0.065</text>
<line x1="600.80" y1="1002.92" x2="613.0" y2="1002.92" stroke="#000" stroke-width="1.35"/>
<line x1="600.80" y1="985.63" x2="613.0" y2="985.63" stroke="#000" stroke-width="1.35"/>
<line x1="600.80" y1="968.35" x2="613.0" y2="968.35" stroke="#000" stroke-width="1.35"/>
<line x1="600.80" y1="951.06" x2="613.0" y2="951.06" stroke="#000" stroke-width="1.35"/>
<line x1="600.80" y1="916.50" x2="613.0" y2="916.50" stroke="#000" stroke-width="1.35"/>
<line x1="600.80" y1="899.21" x2="613.0" y2="899.21" stroke="#000" stroke-width="1.35"/>
<line x1="600.80" y1="881.93" x2="613.0" y2="881.93" stroke="#000" stroke-width="1.35"/>
<line x1="600.80" y1="864.64" x2="613.0" y2="864.64" stroke="#000" stroke-width="1.35"/>
<line x1="600.80" y1="830.08" x2="613.0" y2="830.08" stroke="#000" stroke-width="1.35"/>
<line x1="600.80" y1="812.79" x2="613.0" y2="812.79" stroke="#000" stroke-width="1.35"/>
<line x1="600.80" y1="795.51" x2="613.0" y2="795.51" stroke="#000" stroke-width="1.35"/>
<line x1="600.80" y1="778.22" x2="613.0" y2="778.22" stroke="#000" stroke-width="1.35"/>
<line x1="600.80" y1="743.66" x2="613.0" y2="743.66" stroke="#000" stroke-width="1.35"/>
<line x1="600.80" y1="726.37" x2="613.0" y2="726.37" stroke="#000" stroke-width="1.35"/>
<line x1="600.80" y1="709.09" x2="613.0" y2="709.09" stroke="#000" stroke-width="1.35"/>
<line x1="600.80" y1="691.80" x2="613.0" y2="691.80" stroke="#000" stroke-width="1.35"/>
<line x1="600.80" y1="657.24" x2="613.0" y2="657.24" stroke="#000" stroke-width="1.35"/>
<line x1="600.80" y1="639.95" x2="613.0" y2="639.95" stroke="#000" stroke-width="1.35"/>
<line x1="600.80" y1="622.67" x2="613.0" y2="622.67" stroke="#000" stroke-width="1.35"/>
<line x1="600.80" y1="605.38" x2="613.0" y2="605.38" stroke="#000" stroke-width="1.35"/>
<line x1="616.40" y1="1020.2" x2="616.40" y2="1032.50" stroke="#000" stroke-width="1.35"/>
<line x1="635.30" y1="1020.2" x2="635.30" y2="1032.50" stroke="#000" stroke-width="1.35"/>
<line x1="654.20" y1="1020.2" x2="654.20" y2="1032.50" stroke="#000" stroke-width="1.35"/>
<line x1="673.10" y1="1020.2" x2="673.10" y2="1032.50" stroke="#000" stroke-width="1.35"/>
<line x1="692.00" y1="1020.2" x2="692.00" y2="1032.50" stroke="#000" stroke-width="1.35"/>
<line x1="710.90" y1="1020.2" x2="710.90" y2="1032.50" stroke="#000" stroke-width="1.35"/>
<line x1="729.80" y1="1020.2" x2="729.80" y2="1032.50" stroke="#000" stroke-width="1.35"/>
<line x1="748.70" y1="1020.2" x2="748.70" y2="1032.50" stroke="#000" stroke-width="1.35"/>
<line x1="767.60" y1="1020.2" x2="767.60" y2="1032.50" stroke="#000" stroke-width="1.35"/>
<line x1="786.50" y1="1020.2" x2="786.50" y2="1032.50" stroke="#000" stroke-width="1.35"/>
<line x1="805.40" y1="1020.2" x2="805.40" y2="1032.50" stroke="#000" stroke-width="1.35"/>
<line x1="824.30" y1="1020.2" x2="824.30" y2="1032.50" stroke="#000" stroke-width="1.35"/>
<line x1="843.20" y1="1020.2" x2="843.20" y2="1032.50" stroke="#000" stroke-width="1.35"/>
<line x1="862.10" y1="1020.2" x2="862.10" y2="1032.50" stroke="#000" stroke-width="1.35"/>
<line x1="881.00" y1="1020.2" x2="881.00" y2="1032.50" stroke="#000" stroke-width="1.35"/>
<line x1="899.90" y1="1020.2" x2="899.90" y2="1032.50" stroke="#000" stroke-width="1.35"/>
<line x1="918.80" y1="1020.2" x2="918.80" y2="1032.50" stroke="#000" stroke-width="1.35"/>
<line x1="937.70" y1="1020.2" x2="937.70" y2="1032.50" stroke="#000" stroke-width="1.35"/>
<line x1="956.60" y1="1020.2" x2="956.60" y2="1032.50" stroke="#000" stroke-width="1.35"/>
<line x1="975.50" y1="1020.2" x2="975.50" y2="1032.50" stroke="#000" stroke-width="1.35"/>
<line x1="994.40" y1="1020.2" x2="994.40" y2="1032.50" stroke="#000" stroke-width="1.35"/>
<text x="616.40" y="1056.5" text-anchor="middle" class="t">0.0</text>
<text x="692.00" y="1056.5" text-anchor="middle" class="t">0.2</text>
<text x="767.60" y="1056.5" text-anchor="middle" class="t">0.4</text>
<text x="843.20" y="1056.5" text-anchor="middle" class="t">0.6</text>
<text x="918.80" y="1056.5" text-anchor="middle" class="t">0.8</text>
<text x="994.40" y="1056.5" text-anchor="middle" class="t">1.0</text>
<text transform="translate(1003.30,1023.70) scale(1.0000,1.0000)" class="t i">ρ</text>
<text transform="translate(787.60,1091.00) scale(0.9966,1.0770)" class="t b"><tspan class="n">(</tspan>d<tspan class="n">)</tspan></text>
<text transform="translate(775.35,618.20) scale(1.0600,1.0000)" class="t i">a</text>
<rect x="797.30" y="608.70" width="16.8" height="1.3" fill="#111"/>
<rect x="797.30" y="613.20" width="16.8" height="1.3" fill="#111"/>
<text transform="translate(822.50,618.10) scale(1.0000,1.0000)" class="t">8</text>
<line x1="631.5" y1="657.6" x2="711.0" y2="657.6" fill="none" stroke="#e80208" stroke-width="2.3" stroke-linecap="round" stroke-linejoin="round"/>
<text transform="translate(717.28,664.20) scale(1.0557,1.0000)" class="t">Asymptotic</text>
<line x1="631.5" y1="685.3" x2="711.0" y2="685.3" fill="none" stroke="#b40800" stroke-width="2.8" stroke-linecap="round" stroke-linejoin="round" stroke-dasharray="0 6.3"/>
<text transform="translate(716.62,693.90) scale(1.0918,1.0000)" class="t">IV-R</text>
<line x1="631.5" y1="712.2" x2="711.0" y2="712.2" fill="none" stroke="#0866b8" stroke-width="2.2" stroke-linecap="round" stroke-linejoin="round" stroke-dasharray="2.1 3.97"/>
<text transform="translate(716.63,721.60) scale(1.0818,1.0000)" class="t">IV-ER</text>
<line x1="631.5" y1="739.6" x2="711.0" y2="739.6" fill="none" stroke="#1c1f8a" stroke-width="2.5" stroke-linecap="round" stroke-linejoin="round" stroke-dasharray="4.8 5.35"/>
<text transform="translate(716.89,748.60) scale(1.0210,1.0000)" class="t">LIML-ER</text>
<line x1="631.5" y1="768.3" x2="711.0" y2="768.3" fill="none" stroke="#801c92" stroke-width="2.5" stroke-linecap="round" stroke-linejoin="round" stroke-dasharray="0 4.58"/>
<text transform="translate(716.84,774.70) scale(1.0792,1.0000)" class="t">F(1)-ER</text>
</svg>
</body></html>
